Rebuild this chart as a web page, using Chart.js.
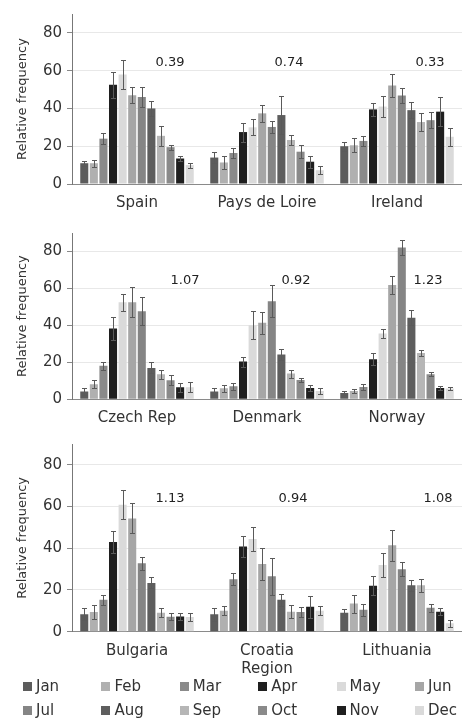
<!DOCTYPE html>
<html><head><meta charset="utf-8">
<script src="https://cdn.jsdelivr.net/npm/chart.js@4/dist/chart.umd.min.js"></script>
<style>
html,body{margin:0;padding:0;background:#fff;}
body{width:462px;height:720px;position:relative;overflow:hidden;font-family:"DejaVu Sans",sans-serif;}
.panel{position:absolute;left:0;width:462px;}
.li{position:absolute;font:15px "DejaVu Sans",sans-serif;color:#333;line-height:18px;height:18px;white-space:nowrap;}
.sw{display:inline-block;width:9px;height:9px;margin-right:4px;vertical-align:0px;}
</style></head>
<body>
<div class="panel" style="top:0;height:215px"><canvas id="c1"></canvas></div>
<div class="panel" style="top:215px;height:215px"><canvas id="c2"></canvas></div>
<div class="panel" style="top:430px;height:250px"><canvas id="c3"></canvas></div>
<div id="legend"></div>
<script>
// ---------- data ----------
const months = ['Jan','Feb','Mar','Apr','May','Jun','Jul','Aug','Sep','Oct','Nov','Dec'];
const monthColors = ['#5c5c5c','#b0b0b0','#8a8a8a','#1f1f1f','#dadada','#a6a6a6','#858585','#5e5e5e','#b6b6b6','#8a8a8a','#1f1f1f','#dadada'];

const panel1Countries = ['Spain','Pays de Loire','Ireland'];
const spain        = [11, 11, 24, 52.5, 58, 47, 46, 40, 25.5, 19.5, 13.5, 10];
const spainErr     = [1.4, 1.8, 3, 7, 7.5, 4.3, 5.2, 4, 5.2, 1.4, 1.4, 1.3];
const paysDeLoire  = [14, 11.4, 16.4, 27.5, 30, 37.4, 30.2, 36.5, 23.3, 17.1, 11.8, 7.3];
const paysErr      = [2.9, 3.2, 2.6, 5, 4.3, 4.5, 3.4, 10, 2.4, 3.4, 3.2, 2.2];
const ireland      = [20, 20.5, 22.8, 39.5, 41, 52.2, 46.8, 39.1, 32.8, 33.8, 38.3, 25];
const irelandErr   = [2.5, 3.8, 2.6, 3.5, 5.6, 6, 3.9, 4.3, 4.9, 4.3, 7.6, 4.8];
const panel1Index  = ['0.39','0.74','0.33'];

const panel2Countries = ['Czech Rep','Denmark','Norway'];
const czech        = [4.2, 8.1, 18.2, 38.3, 52.5, 52.5, 47.7, 17, 13.5, 10.3, 6.5, 6.5];
const czechErr     = [1.8, 2.2, 2.2, 6, 4.5, 8.2, 7.6, 3, 2.5, 2.7, 2.3, 2.7];
const denmark      = [4.2, 6, 7, 20.4, 40.1, 41.4, 53.1, 24.2, 13.9, 10.5, 6.1, 4.5];
const denmarkErr   = [1.8, 1.8, 1.7, 2.7, 7.6, 6.1, 8.5, 2.9, 2.2, 1.2, 1.5, 1.5];
const norway       = [3.4, 4.5, 6.7, 21.7, 35.6, 61.8, 82.2, 44.2, 25.1, 13.5, 6.1, 5.8];
const norwayErr    = [1.1, 1, 1.4, 3.2, 2.2, 4.9, 3.9, 4.2, 1.8, 1.1, 1, 0.7];
const panel2Index  = ['1.07','0.92','1.23'];

const panel3Countries = ['Bulgaria',['Croatia','Region'],'Lithuania'];
const bulgaria     = [8.4, 9.4, 15.3, 43, 60.9, 54.3, 32.8, 23.4, 9.1, 7.2, 7.3, 7];
const bulgariaErr  = [2.9, 3.2, 2.5, 5.4, 7.1, 7.2, 3.2, 2.6, 2.2, 1.8, 1.9, 1.8];
const croatia      = [8.4, 10, 25.2, 40.8, 44.5, 32.5, 26.6, 15.3, 9.6, 9.4, 12, 10];
const croatiaErr   = [3.2, 2.1, 2.8, 5.2, 5.7, 7.5, 8.9, 3, 3.2, 2.4, 5.2, 2.1];
const lithuania    = [9.1, 13.5, 10.5, 22, 32, 41.4, 30, 22.3, 22.3, 11.5, 9.6, 4];
const lithuaniaErr = [1.9, 4.3, 2.9, 4.5, 5.6, 7.5, 3.5, 2.7, 3.2, 2, 1.6, 1.6];
const panel3Index  = ['1.13','0.94','1.08'];

// ---------- layout (not data) ----------
const FONT = 'DejaVu Sans';

const errorBars = {
  id: 'errorBars',
  afterDatasetsDraw(chart) {
    const ctx = chart.ctx, ys = chart.scales.y;
    ctx.save();
    ctx.strokeStyle = '#5a5a5a';
    ctx.lineWidth = 1;
    chart.data.datasets.forEach((ds, di) => {
      const meta = chart.getDatasetMeta(di);
      meta.data.forEach((bar, i) => {
        const v = ds.data[i], e = ds.errors[i];
        const x = Math.round(bar.x) + 0.5;
        const yt = Math.round(ys.getPixelForValue(v + e)) + 0.5;
        const yb = Math.round(ys.getPixelForValue(Math.max(0, v - e))) + 0.5;
        ctx.beginPath();
        ctx.moveTo(x, yt); ctx.lineTo(x, yb);
        ctx.moveTo(x - 2.5, yt); ctx.lineTo(x + 2.5, yt);
        ctx.moveTo(x - 2.5, yb); ctx.lineTo(x + 2.5, yb);
        ctx.stroke();
      });
    });
    ctx.restore();
  }
};

const indexText = {
  id: 'indexText',
  afterDraw(chart, args, opts) {
    const ctx = chart.ctx, xs = chart.scales.x, ys = chart.scales.y;
    ctx.save();
    ctx.font = '13px "' + FONT + '"';
    ctx.fillStyle = '#222';
    ctx.textAlign = 'center';
    ctx.textBaseline = 'middle';
    opts.labels.forEach((t, i) => {
      ctx.fillText(t, xs.getPixelForValue(i) + opts.offsets[i], ys.getPixelForValue(opts.y));
    });
    ctx.restore();
  }
};

function makeChart(id, countries, series, errs, indexLabels, indexOffsets, padTop, xAxisHeight) {
  const datasets = months.map((m, i) => ({
    label: m,
    data: series.map(s => s[i]),
    errors: errs.map(e => e[i]),
    backgroundColor: monthColors[i],
    borderWidth: 0,
    barPercentage: 0.84,
    categoryPercentage: 0.885
  }));
  return new Chart(document.getElementById(id), {
    type: 'bar',
    data: { labels: countries, datasets },
    options: {
      responsive: true,
      maintainAspectRatio: false,
      animation: false,
      layout: { padding: { top: padTop, left: 0, right: 0, bottom: 0 } },
      plugins: {
        legend: { display: false },
        tooltip: { enabled: false },
        indexText: { labels: indexLabels, offsets: indexOffsets, y: 64 }
      },
      scales: {
        x: {
          grid: { display: false, drawTicks: false },
          border: { display: true, color: '#8a8a8a', width: 1 },
          ticks: { color: '#333', font: { family: FONT, size: 15 }, padding: 10, maxRotation: 0, autoSkip: false },
          afterFit: s => { s.height = xAxisHeight; }
        },
        y: {
          min: 0, max: 90,
          ticks: { stepSize: 20, color: '#333', font: { family: FONT, size: 15 }, padding: 5 },
          afterBuildTicks: s => { s.ticks = s.ticks.filter(t => t.value % 20 === 0); },
          grid: { color: '#e8e8e8', tickColor: '#888', tickLength: 5, drawTicks: true },
          border: { color: '#777', width: 1 },
          title: { display: true, text: 'Relative frequency', color: '#333', font: { family: FONT, size: 13 }, padding: { top: 15, bottom: 0 } },
          afterFit: s => { s.width = 72; }
        }
      }
    },
    plugins: [errorBars, indexText]
  });
}

makeChart('c1', panel1Countries, [spain, paysDeLoire, ireland], [spainErr, paysErr, irelandErr],
  panel1Index, [33, 22, 33], 11.4, 31);
makeChart('c2', panel2Countries, [czech, denmark, norway], [czechErr, denmarkErr, norwayErr],
  panel2Index, [48, 29, 31], 18, 30.7);
makeChart('c3', panel3Countries, [bulgaria, croatia, lithuania], [bulgariaErr, croatiaErr, lithuaniaErr],
  panel3Index, [33, 26, 41], 13.9, 48.3);

// HTML legend built from months / monthColors
const legend = document.getElementById('legend');
months.forEach((m, i) => {
  const col = i % 6, row = Math.floor(i / 6);
  const d = document.createElement('div');
  d.className = 'li';
  d.style.left = (23 + col * 78.4) + 'px';
  d.style.top = (677 + row * 24) + 'px';
  const sw = document.createElement('span');
  sw.className = 'sw';
  sw.style.background = monthColors[i];
  d.appendChild(sw);
  d.appendChild(document.createTextNode(m));
  legend.appendChild(d);
});
</script>
</body></html>
